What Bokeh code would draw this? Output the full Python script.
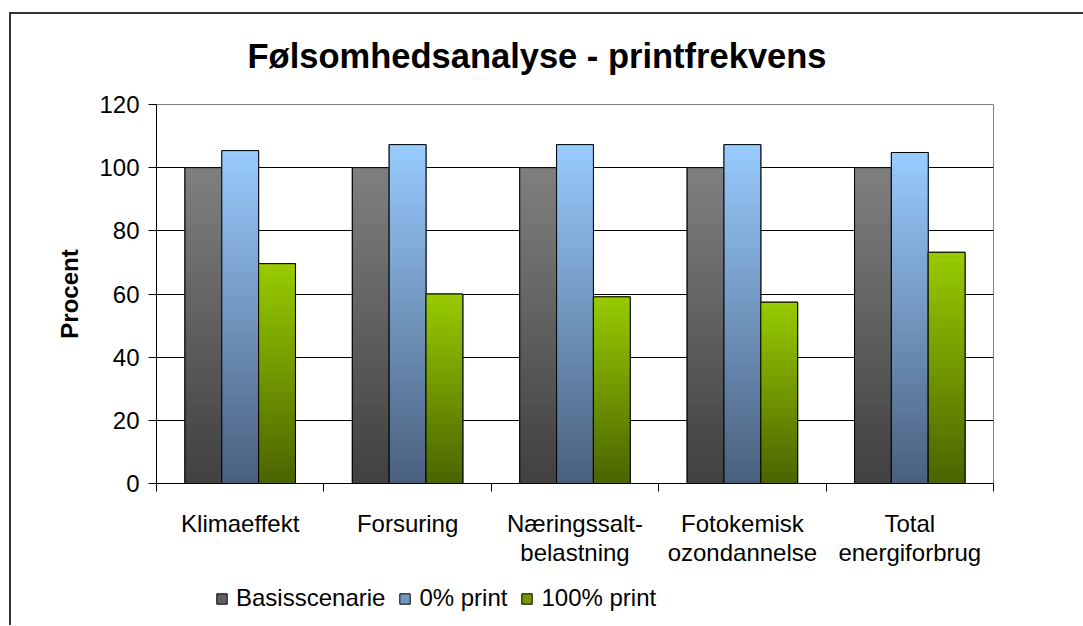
import numpy as np
from bokeh.plotting import figure
from bokeh.layouts import column
from bokeh.models import FixedTicker, Legend, LegendItem, Range1d, ColumnDataSource, Label
from bokeh.embed import file_html
from bokeh.resources import INLINE

# ---------------- data ----------------
title_text = "Følsomhedsanalyse - printfrekvens"
categories = ["Klimaeffekt", "Forsuring", "Næringssalt-\nbelastning",
              "Fotokemisk\nozondannelse", "Total\nenergiforbrug"]
series_names = ["Basisscenarie", "0% print", "100% print"]
basis = [100, 100, 100, 100, 100]
print_0 = [105.4, 107.3, 107.3, 107.3, 104.8]
print_100 = [69.6, 60.0, 59.1, 57.4, 73.2]
y_ticks = [0, 20, 40, 60, 80, 100, 120]

# ---------------- styles ----------------
FONT = "Liberation Sans"
top_colors = [(0x80, 0x80, 0x80), (0x99, 0xCC, 0xFF), (0x99, 0xCC, 0x00)]
bottom_colors = [(0x40, 0x40, 0x40), (0x4A, 0x5F, 0x7D), (0x4A, 0x63, 0x00)]
offsets = [-0.22, 0.0, 0.22]
bar_w = 0.22
N_SEG = 60
FW = 837          # frame width
BL, BR = 145, 90  # left / right borders


def hexc(c):
    return "#%02x%02x%02x" % tuple(int(round(v)) for v in c)


def strip(h):
    f = figure(frame_width=FW, frame_height=h, x_range=Range1d(0, FW), y_range=Range1d(0, h),
               min_border_left=BL, min_border_right=BR, min_border_top=0, min_border_bottom=0,
               x_axis_location=None, y_axis_location=None,
               output_backend="svg", toolbar_location=None)
    f.grid.visible = False
    f.outline_line_color = None
    f.background_fill_color = "white"
    f.border_fill_color = "white"
    return f


# ---- title strip ----
tf = strip(75)
tf.add_layout(Label(x=91, y=34, text=title_text, text_font=FONT, text_font_size="34.5px",
                    text_font_style="bold", text_color="black",
                    text_align="left", text_baseline="middle"))

# ---- main chart ----
p = figure(x_range=Range1d(-0.5, len(categories) - 0.5), y_range=Range1d(0, 120),
           frame_width=FW, frame_height=379,
           min_border_left=BL, min_border_top=15, min_border_right=BR, min_border_bottom=95,
           output_backend="svg", toolbar_location=None)
p.background_fill_color = "white"
p.border_fill_color = "white"
p.outline_line_color = "#808080"

xa = p.xaxis[0]
xa.ticker = FixedTicker(ticks=list(range(len(categories))),
                        minor_ticks=[i - 0.5 for i in range(len(categories) + 1)])
xa.major_label_overrides = {i: c for i, c in enumerate(categories)}
xa.major_tick_out = 0
xa.major_tick_in = 0
xa.minor_tick_out = 8
xa.minor_tick_in = 0
xa.minor_tick_line_color = "black"
xa.axis_line_color = "black"
xa.major_label_text_font = FONT
xa.major_label_text_font_size = "24px"
xa.major_label_text_color = "black"
xa.major_label_text_line_height = 1.1
xa.major_label_standoff = 18

ya = p.yaxis[0]
ya.ticker = FixedTicker(ticks=y_ticks, minor_ticks=[])
ya.major_tick_out = 8
ya.major_tick_in = 0
ya.major_tick_line_color = "black"
ya.axis_line_color = "black"
ya.major_label_text_font = FONT
ya.major_label_text_font_size = "24px"
ya.major_label_text_color = "black"
ya.major_label_standoff = 9
ya.axis_label = "Procent"
ya.axis_label_text_font = FONT
ya.axis_label_text_font_size = "24px"
ya.axis_label_text_font_style = "bold"
ya.axis_label_text_color = "black"
ya.axis_label_standoff = 13

p.xgrid.visible = False
p.ygrid.ticker = FixedTicker(ticks=[t for t in y_ticks if 0 < t < 120])
p.ygrid.grid_line_color = "black"
p.ygrid.grid_line_width = 1

# ---- legend strip (proxy bars live outside its visible ranges) ----
lg = strip(47)
lg.x_range = Range1d(-10, -9)
lg.y_range = Range1d(1000, 1047)

legend_items = []
for s, vals in enumerate([basis, print_0, print_100]):
    xs = [i + offsets[s] for i in range(len(categories))]
    mid = hexc([(a + b) / 2 for a, b in zip(top_colors[s], bottom_colors[s])])
    p.vbar(x=xs, top=vals, bottom=0, width=bar_w, fill_color=mid,
           line_color="black", line_width=1)

    sx, sb, st, sc = [], [], [], []
    for i, v in enumerate(vals):
        for k in range(N_SEG):
            frac = (k + 0.5) / N_SEG
            col = [b + (t - b) * frac for t, b in zip(top_colors[s], bottom_colors[s])]
            sx.append(xs[i])
            sb.append(v * k / N_SEG)
            st.append(v * (k + 1) / N_SEG)
            sc.append(hexc(col))
    src = ColumnDataSource(dict(x=sx, bottom=sb, top=st, color=sc))
    p.vbar(x="x", bottom="bottom", top="top", width=bar_w, source=src,
           fill_color="color", line_color="color", line_width=0.6)
    p.vbar(x=xs, top=vals, bottom=0, width=bar_w, fill_color=None,
           line_color="black", line_width=1)

    proxy = lg.vbar(x=xs, top=vals, bottom=0, width=bar_w, fill_color=mid,
                    line_color="black", line_width=1)
    legend_items.append(LegendItem(label=series_names[s], renderers=[proxy]))

legend = Legend(items=legend_items, orientation="horizontal", location=(59, 13))
legend.label_text_font = FONT
legend.label_text_font_size = "24px"
legend.label_text_color = "black"
legend.glyph_width = 13
legend.glyph_height = 13
legend.label_standoff = 8
legend.spacing = 13
legend.padding = 0
legend.margin = 0
legend.border_line_color = None
legend.background_fill_alpha = 0
lg.add_layout(legend, "center")

layout = column(tf, p, lg, spacing=0)
layout.margin = (12, 0, 0, 9)
layout.styles = {"border-left": "2px solid #333333", "border-top": "2px solid #333333",
                 "border-right": "none", "border-bottom": "none"}

open("out.html", "w").write(file_html(layout, INLINE))
